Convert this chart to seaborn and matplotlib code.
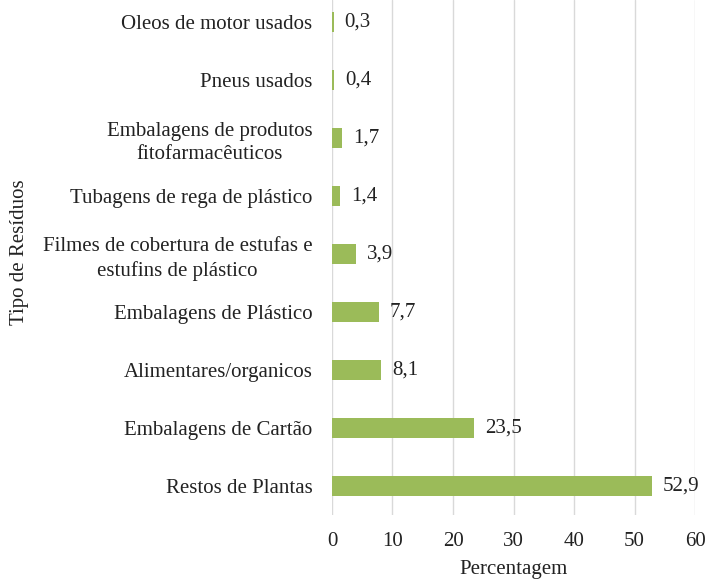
import matplotlib
matplotlib.use("Agg")
import matplotlib.pyplot as plt
import seaborn as sns
import pandas as pd

categorias = [
    "Oleos de motor usados",
    "Pneus usados",
    "Embalagens de produtos\nfitofarmacêuticos",
    "Tubagens de rega de plástico",
    "Filmes de cobertura de estufas e\nestufins de plástico",
    "Embalagens de Plástico",
    "Alimentares/organicos",
    "Embalagens de Cartão",
    "Restos de Plantas",
]
valores = [0.3, 0.4, 1.7, 1.4, 3.9, 7.7, 8.1, 23.5, 52.9]

df = pd.DataFrame({"Tipo": categorias, "Percentagem": valores})

sns.set_style("white")
plt.rcParams["font.family"] = ["Liberation Serif", "DejaVu Serif"]

fs = 15
fig = plt.figure(figsize=(7.1, 5.8), dpi=100)
ax = fig.add_axes([0.4676, 0.112, 0.5113, 0.888])

sns.barplot(data=df, y="Tipo", x="Percentagem", color="#9BBB59",
            width=0.35, ax=ax, zorder=3, saturation=1, linewidth=0)

for i, v in enumerate(valores):
    ax.text(v + 1.8, i, f"{v:.1f}".replace(".", ","), va="center", ha="left",
            fontsize=fs, color="#222222")

ax.set_xlim(0, 60)
ax.set_ylim(8.5, -0.38)
ax.set_xticks(range(0, 61, 10))
ax.xaxis.grid(True, color="#d9d9d9", linewidth=1, zorder=0)
ax.yaxis.grid(False)
for s in ax.spines.values():
    s.set_visible(False)
ax.tick_params(axis="both", length=0, labelsize=fs, colors="#222222")
ax.tick_params(axis="x", pad=12)
ax.tick_params(axis="y", pad=14)
for lab in ax.get_yticklabels():
    lab.set_multialignment("center")
    lab.set_linespacing(1.35)

ax.set_xlabel("Percentagem", fontsize=fs, color="#222222", labelpad=7)
ax.set_ylabel("")
fig.text(20 / 710, 0.565, "Tipo de Resíduos", rotation=90, fontsize=fs,
         color="#222222", ha="center", va="center")

fig.savefig("out.png", dpi=100)
